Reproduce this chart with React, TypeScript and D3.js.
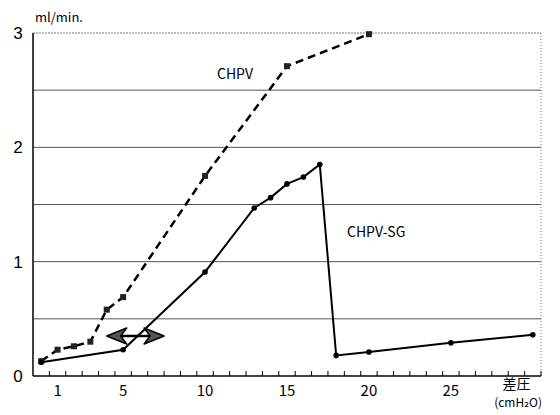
import React from 'react';
import * as d3 from 'd3';

// pressure difference (cmH2O) and flow (ml/min.)
const chpvX = [0, 1, 2, 3, 4, 5, 10, 15, 20];
const chpvY = [0.13, 0.23, 0.26, 0.3, 0.58, 0.69, 1.75, 2.71, 2.99];
const sgX = [0, 5, 10, 13, 14, 15, 16, 17, 18, 20, 25, 30];
const sgY = [0.12, 0.23, 0.91, 1.47, 1.56, 1.68, 1.74, 1.85, 0.18, 0.21, 0.29, 0.36];
const xLabels = [1, 5, 10, 15, 20, 25];
const yLabels = [0, 1, 2, 3];
const gridValues = [0.5, 1, 1.5, 2, 2.5];
const arrowRange = [4, 7.5];
const arrowLevel = 0.35;

const W = 560;
const H = 415;
const font = '"Noto Sans CJK JP", "DejaVu Sans", sans-serif';

export default function App() {
  const x = d3.scaleLinear().domain([-0.5, 30.5]).range([33, 541]);
  const y = d3.scaleLinear().domain([0, 3]).range([376, 33]);

  const line = d3.line<[number, number]>()
    .x(d => x(d[0]))
    .y(d => y(d[1]));

  const chpv: [number, number][] = chpvX.map((v, i) => [v, chpvY[i]]);
  const sg: [number, number][] = sgX.map((v, i) => [v, sgY[i]]);
  const tickVals = d3.range(0, 31).map(d => d + 0.5);

  const ax0 = x(arrowRange[0]);
  const ax1 = x(arrowRange[1]);
  const ay = y(arrowLevel);

  return (
    <svg width={W} height={H} style={{ position: 'absolute', left: 0, top: 0, background: '#fff' }}>
      {/* grid */}
      {gridValues.map(g => (
        <line key={g} x1={x(-0.5)} x2={x(30.5)} y1={y(g)} y2={y(g)} stroke="#555" strokeWidth={1} />
      ))}
      <line x1={x(-0.5)} x2={x(30.5)} y1={y(3)} y2={y(3)} stroke="#777" strokeWidth={1} strokeDasharray="2,1" />
      <line x1={x(30.5)} x2={x(30.5)} y1={y(3)} y2={y(0)} stroke="#777" strokeWidth={1} strokeDasharray="1,2" />

      {/* axes */}
      <line x1={x(-0.5)} x2={x(-0.5)} y1={y(3)} y2={y(0)} stroke="#000" strokeWidth={1.5} />
      <line x1={x(-0.5)} x2={x(30.5)} y1={y(0)} y2={y(0)} stroke="#000" strokeWidth={1.5} />
      {tickVals.map(t => (
        <line key={t} x1={x(t)} x2={x(t)} y1={y(0)} y2={y(0) - 5} stroke="#000" strokeWidth={1} />
      ))}

      {yLabels.map(v => (
        <text key={v} x={18} y={y(v) + 6} fontSize={17} fontFamily='"Liberation Sans", Arial, sans-serif'
          textAnchor="middle">{v}</text>
      ))}
      {xLabels.map(v => (
        <text key={v} x={x(v)} y={y(0) + 20} fontSize={15} fontFamily={font} textAnchor="middle">{v}</text>
      ))}
      <text x={35} y={22} fontSize={13} fontFamily={font}>ml/min.</text>
      <text x={x(29)} y={y(0) + 13} fontSize={14} fontFamily={font} textAnchor="middle">差圧</text>
      <text x={x(29.1)} y={y(0) + 31} fontSize={12} fontFamily={font} textAnchor="middle">(cmH₂O)</text>

      {/* series */}
      <path d={line(chpv) || ''} fill="none" stroke="#000" strokeWidth={2.5} strokeDasharray="8,5" />
      {chpv.map((d, i) => (
        <rect key={i} x={x(d[0]) - 3} y={y(d[1]) - 3} width={6} height={6} fill="#222" />
      ))}
      <path d={line(sg) || ''} fill="none" stroke="#000" strokeWidth={2} />
      {sg.map((d, i) => (
        <circle key={i} cx={x(d[0])} cy={y(d[1])} r={2.8} fill="#000" />
      ))}

      {/* double arrow */}
      <line x1={ax0 + 12} x2={ax1 - 12} y1={ay} y2={ay} stroke="#000" strokeWidth={2.5} />
      <path d={`M${ax0},${ay} L${ax0 + 20},${ay - 8} L${ax0 + 14},${ay} L${ax0 + 20},${ay + 8} Z`}
        fill="#555" stroke="#000" strokeWidth={1.5} strokeLinejoin="round" />
      <path d={`M${ax1},${ay} L${ax1 - 20},${ay - 8} L${ax1 - 14},${ay} L${ax1 - 20},${ay + 8} Z`}
        fill="#555" stroke="#000" strokeWidth={1.5} strokeLinejoin="round" />

      <text x={235} y={79} fontSize={14} fontFamily={font} textAnchor="middle">CHPV</text>
      <text x={347} y={237} fontSize={14} fontFamily={font}>CHPV-SG</text>
    </svg>
  );
}
